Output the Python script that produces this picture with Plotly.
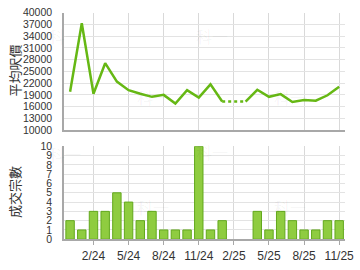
import plotly.graph_objects as go

months = ["12/23", "1/24", "2/24", "3/24", "4/24", "5/24", "6/24", "7/24", "8/24", "9/24",
          "10/24", "11/24", "12/24", "1/25", "2/25", "3/25", "4/25", "5/25", "6/25", "7/25",
          "8/25", "9/25", "10/25", "11/25"]
avg_price = [19800, 37300, 19300, 27100, 22400, 20200, 19300, 18500, 19000, 16800,
             20200, 18300, 21700, 17300, None, 17300, 20300, 18500, 19200, 17200,
             17700, 17500, 18900, 21100]
deals = [2, 1, 3, 3, 5, 4, 2, 3, 1, 1, 1, 10, 1, 2, 0, 0, 3, 1, 3, 2, 1, 1, 2, 2]
tick_months = ["2/24", "5/24", "8/24", "11/24", "2/25", "5/25", "8/25", "11/25"]
price_ticks = [10000, 13000, 16000, 19000, 22000, 25000, 28000, 31000, 34000, 37000, 40000]
deal_ticks = list(range(0, 11))

# gap bridging (dotted) between months around the missing value
gap_x, gap_y = [], []
for i, v in enumerate(avg_price):
    if v is None:
        j, k = i - 1, i + 1
        gap_x = [months[j], months[k]]
        gap_y = [avg_price[j], avg_price[k]]

green = "#66b814"
fig = go.Figure()
fig.add_trace(go.Scatter(x=months, y=avg_price, mode="lines", line=dict(color=green, width=2.5),
                         connectgaps=False, xaxis="x", yaxis="y", showlegend=False))
fig.add_trace(go.Scatter(x=gap_x, y=gap_y, mode="lines", line=dict(color=green, width=2.5, dash="dot"),
                         xaxis="x", yaxis="y", showlegend=False))
fig.add_trace(go.Bar(x=months, y=deals,
                     marker=dict(color="#8fcc40",
                                 line=dict(color="#62a81c", width=[1 if d > 0 else 0 for d in deals])),
                     width=0.72, xaxis="x2", yaxis="y2", showlegend=False))

axis_common = dict(
    type="category", categoryorder="array", categoryarray=months,
    range=[-0.5, 23.5], tickvals=tick_months, ticktext=tick_months,
    showgrid=True, gridcolor="#d9d9d9", gridwidth=1,
    showline=True, linecolor="#a8a8a8", linewidth=2,
)
fig.update_layout(
    width=360, height=270, margin=dict(l=0, r=0, t=0, b=0),
    paper_bgcolor="white", plot_bgcolor="white",
    font=dict(family="Liberation Sans, Arial, sans-serif", color="#333333"),
    xaxis=dict(**axis_common, domain=[0.183, 0.983], anchor="y", showticklabels=False, ticks=""),
    yaxis=dict(domain=[0.519, 0.974], range=[10000, 40000], tickvals=price_ticks,
               tickformat="d",
               showgrid=True, gridcolor="#e3e3e3", gridwidth=1, zeroline=False,
               showline=True, linecolor="#a8a8a8", linewidth=2, ticks="",
               tickfont=dict(size=10.5), anchor="x", ticklabelstandoff=8),
    xaxis2=dict(**axis_common, domain=[0.183, 0.983], anchor="y2", ticks="outside",
                ticklen=4, tickcolor="#a8a8a8", tickfont=dict(size=12)),
    yaxis2=dict(domain=[0.096, 0.456], range=[0, 10], tickvals=deal_ticks,
                tickformat="d",
                showgrid=True, gridcolor="#e3e3e3", gridwidth=1, zeroline=False,
                showline=True, linecolor="#a8a8a8", linewidth=2, ticks="",
                tickfont=dict(size=10.5), anchor="x2", ticklabelstandoff=8),
)

# titles
for txt, ty in [("平均呎價", 68), ("成交宗數", 195)]:
    fig.add_annotation(text=txt, x=15/360, y=1-ty/270, xref="paper", yref="paper",
                       xanchor="center", yanchor="middle",
                       textangle=-90, showarrow=False, font=dict(size=13, color="#333333",
                       family="Noto Sans CJK TC, sans-serif"))

# faint watermark
for (wx, wy) in [(67, 31), (217, 31), (157, 95), (297, 95), (67, 155), (217, 153), (157, 210), (297, 210)]:
    fig.add_annotation(text="科一", x=wx/360, y=1-wy/270, xref="paper", yref="paper",
                       xanchor="center", yanchor="middle",
                       showarrow=False, font=dict(size=16, color="rgba(0,0,0,0.05)",
                       family="Noto Sans CJK TC, sans-serif"))

fig.write_html("out.html")
